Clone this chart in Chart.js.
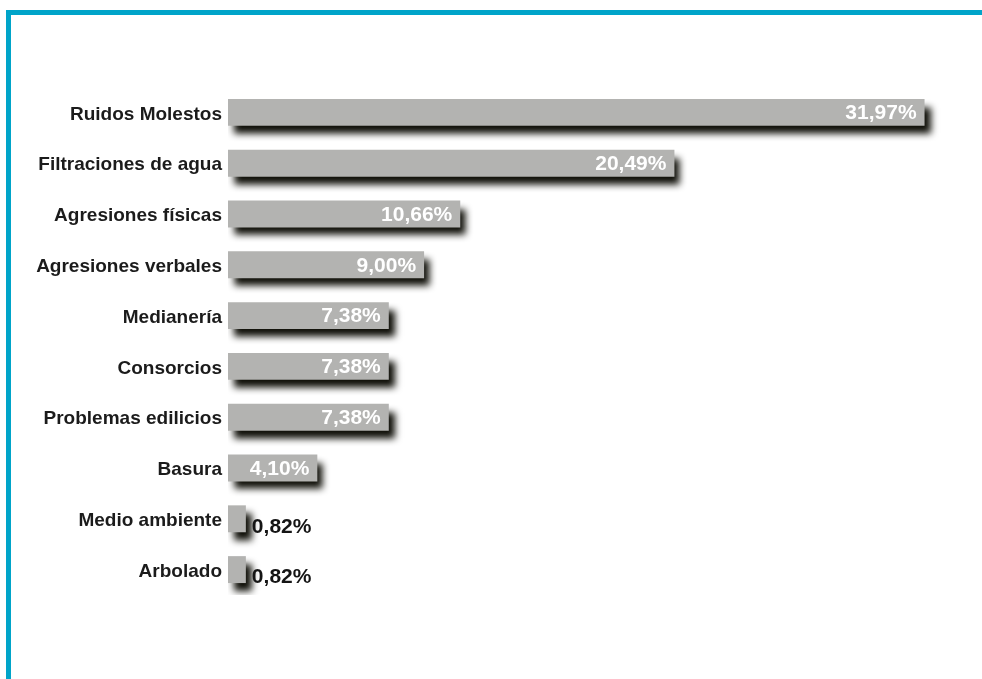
<!DOCTYPE html>
<html>
<head>
<meta charset="utf-8">
<script src="https://cdn.jsdelivr.net/npm/chart.js@4"></script>
<style>
    html, body { margin: 0; padding: 0; background: #fff; }
    #wrap { position: relative; width: 982px; height: 679px; overflow: hidden; }
    #frame {
        position: absolute; left: 6px; top: 10px; width: 1000px; height: 700px;
        border-top: 5px solid #00a4c9; border-left: 5px solid #00a4c9;
    }
    #chartCanvas { position: absolute; left: 0; top: 0; }
</style>
</head>
<body>
<div id="wrap">
    <div id="frame"></div>
    <canvas id="chartCanvas" width="982" height="679"></canvas>
</div>
<script>
// ==============================
// Data
// ==============================
const categories = [
    'Ruidos Molestos', 'Filtraciones de agua', 'Agresiones físicas', 'Agresiones verbales',
    'Medianería', 'Consorcios', 'Problemas edilicios', 'Basura', 'Medio ambiente', 'Arbolado'
];
const percentages = [31.97, 20.49, 10.66, 9.00, 7.38, 7.38, 7.38, 4.10, 0.82, 0.82];
const valueLabels = ['31,97%', '20,49%', '10,66%', '9,00%', '7,38%', '7,38%', '7,38%', '4,10%', '0,82%', '0,82%'];

// ==============================
// Plugins
// ==============================
const barShadow = {
    id: 'barShadow',
    beforeDatasetsDraw(chart) {
        const ctx = chart.ctx;
        ctx.save();
        ctx.shadowColor = 'rgba(15,15,8,1)';
        ctx.shadowBlur = 7;
        ctx.shadowOffsetX = 6;
        ctx.shadowOffsetY = 8;
    },
    afterDatasetsDraw(chart) {
        chart.ctx.restore();
    }
};

const valueText = {
    id: 'valueText',
    afterDatasetsDraw(chart) {
        const ctx = chart.ctx;
        const meta = chart.getDatasetMeta(0);
        ctx.save();
        ctx.font = 'bold 21px "Liberation Sans", Arial, sans-serif';
        ctx.textBaseline = 'middle';
        meta.data.forEach((bar, i) => {
            if (percentages[i] > 2) {
                ctx.fillStyle = '#ffffff';
                ctx.textAlign = 'right';
                ctx.fillText(valueLabels[i], bar.x - 8, bar.y + 1);
            } else {
                ctx.fillStyle = '#151515';
                ctx.textAlign = 'left';
                ctx.fillText(valueLabels[i], bar.x + 6, bar.y + 8);
            }
        });
        ctx.restore();
    }
};

// ==============================
// Chart
// ==============================
new Chart(document.getElementById('chartCanvas'), {
    type: 'bar',
    data: {
        labels: categories,
        datasets: [{
            data: percentages,
            backgroundColor: '#b3b3b1',
            borderWidth: 0,
            barPercentage: 0.53,
            categoryPercentage: 1
        }]
    },
    options: {
        indexAxis: 'y',
        responsive: false,
        animation: false,
        layout: { padding: { top: 87, bottom: 84, left: 0, right: 35 } },
        plugins: { legend: { display: false }, tooltip: { enabled: false } },
        scales: {
            x: { display: false, min: 0, max: 33 },
            y: {
                grid: { display: false, drawTicks: false },
                border: { display: false },
                afterFit(scale) { scale.width = 228; },
                ticks: {
                    padding: 6,
                    labelOffset: 2,
                    color: '#1b1b1b',
                    font: { family: '"Liberation Sans", Arial, sans-serif', size: 19, weight: 'bold' }
                }
            }
        }
    },
    plugins: [barShadow, valueText]
});
</script>
</body>
</html>
